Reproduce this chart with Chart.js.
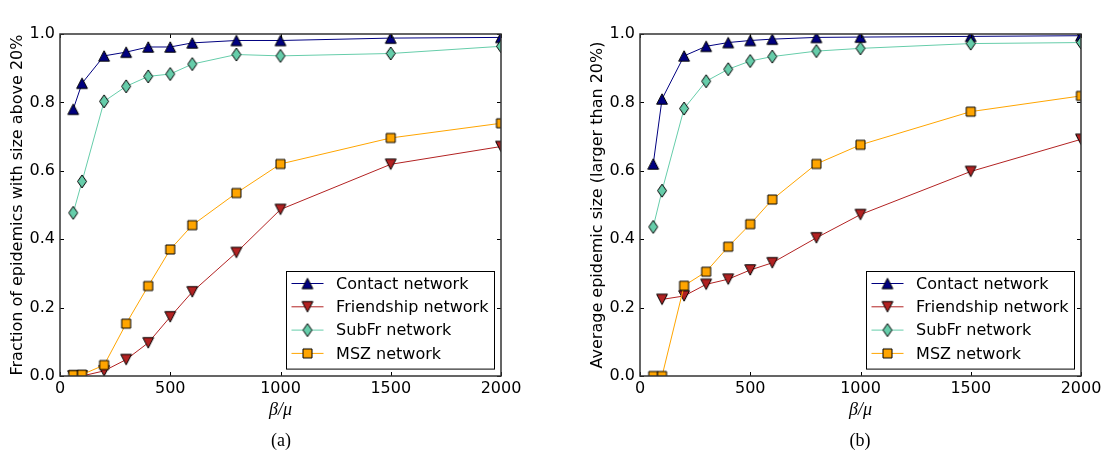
<!DOCTYPE html>
<html>
<head>
<meta charset="utf-8">
<script src="https://cdn.jsdelivr.net/npm/chart.js"></script>
<style>
  body { margin: 0; background: #fff; width: 1105px; height: 458px; overflow: hidden; position: relative; }
  canvas { position: absolute; top: 0; }
  #chartA { left: 0; }
  #chartB { left: 552px; }
  .cap { position: absolute; top: 429px; width: 60px; text-align: center; font: 18px "Liberation Serif", serif; line-height: 22px; color: #000; }
</style>
</head>
<body>
<canvas id="chartA" width="552" height="458"></canvas>
<canvas id="chartB" width="553" height="458"></canvas>
<div class="cap" style="left:251px">(a)</div>
<div class="cap" style="left:830px">(b)</div>
<script>
// beta/mu values
var betaMu = [60, 100, 200, 300, 400, 500, 600, 800, 1000, 1500, 2000];

// (a) fraction of epidemics with size above 20%
var contactA = [0.780, 0.856, 0.936, 0.947, 0.962, 0.962, 0.974, 0.981, 0.981, 0.988, 0.990];
var friendA  = [0, 0, 0.015, 0.048, 0.097, 0.173, 0.246, 0.361, 0.487, 0.619, 0.671];
var subfrA   = [0.477, 0.569, 0.803, 0.847, 0.876, 0.883, 0.912, 0.940, 0.936, 0.943, 0.964];
var mszA     = [0.003, 0.004, 0.032, 0.153, 0.263, 0.370, 0.441, 0.535, 0.620, 0.696, 0.739];

// (b) average epidemic size (larger than 20%)
var contactB = [0.620, 0.810, 0.936, 0.964, 0.975, 0.981, 0.985, 0.990, 0.991, 0.993, 0.995];
var friendB  = [null, 0.224, 0.234, 0.268, 0.283, 0.310, 0.331, 0.404, 0.472, 0.598, 0.692];
var subfrB   = [0.436, 0.542, 0.782, 0.862, 0.897, 0.921, 0.934, 0.950, 0.958, 0.972, 0.975];
var mszB     = [0, 0, 0.264, 0.305, 0.378, 0.444, 0.516, 0.620, 0.676, 0.773, 0.819];

var seriesNames = ['Contact network', 'Friendship network', 'SubFr network', 'MSZ network'];
var seriesColors = ['#000080', '#B22222', '#66CDAA', '#FFA500'];
var xTicks = [0, 500, 1000, 1500, 2000];
var yTicks = [0, 0.2, 0.4, 0.6, 0.8, 1.0];

// marker images (matplotlib style markers with black edge)
function makeMarker(shape, fill) {
  var c = document.createElement('canvas');
  var w = 14, h = 14;
  if (shape == 'diamond') { w = 14; h = 17; }
  if (shape == 'square') { w = 13; h = 13; }
  c.width = w; c.height = h;
  var g = c.getContext('2d');
  g.fillStyle = fill;
  g.strokeStyle = '#000';
  g.lineWidth = 1;
  g.beginPath();
  if (shape == 'up') {
    g.moveTo(7, 1.8); g.lineTo(12.4, 12.2); g.lineTo(1.6, 12.2);
  } else if (shape == 'down') {
    g.moveTo(1.6, 1.8); g.lineTo(12.4, 1.8); g.lineTo(7, 12.2);
  } else if (shape == 'diamond') {
    g.moveTo(7, 2); g.lineTo(11.5, 8.5); g.lineTo(7, 15); g.lineTo(2.5, 8.5);
  } else {
    g.rect(2, 2, 9, 9);
  }
  g.closePath();
  g.fill();
  g.stroke();
  return c;
}
var markerShapes = ['up', 'down', 'diamond', 'square'];
var markers = markerShapes.map(function(s, i) { return makeMarker(s, seriesColors[i]); });

var framePlugin = {
  id: 'frame',
  afterDraw: function(chart) {
    var ctx = chart.ctx, a = chart.chartArea;
    var xs = chart.scales.x, ys = chart.scales.y;
    ctx.save();
    // inward ticks on all four sides
    ctx.strokeStyle = '#000';
    ctx.lineWidth = 1;
    ctx.beginPath();
    xTicks.forEach(function(v) {
      var px = Math.round(xs.getPixelForValue(v)) + 0.5;
      ctx.moveTo(px, a.bottom); ctx.lineTo(px, a.bottom - 4);
      ctx.moveTo(px, a.top); ctx.lineTo(px, a.top + 4);
    });
    yTicks.forEach(function(v) {
      var py = Math.round(ys.getPixelForValue(v)) + 0.5;
      ctx.moveTo(a.left, py); ctx.lineTo(a.left + 4, py);
      ctx.moveTo(a.right, py); ctx.lineTo(a.right - 4, py);
    });
    ctx.stroke();
    ctx.strokeStyle = '#333';
    ctx.lineWidth = 1.5;
    ctx.strokeRect(a.left, a.top, a.right - a.left, a.bottom - a.top);

    // legend box, lower right
    var bw = 208, bh = 97.6;
    var bx = a.right - 7.5 - bw, by = a.bottom - 7.5 - bh;
    ctx.fillStyle = '#fff';
    ctx.fillRect(bx, by, bw, bh);
    ctx.strokeStyle = '#000';
    ctx.lineWidth = 1;
    ctx.strokeRect(Math.round(bx) + 0.5, Math.round(by) + 0.5, bw, bh);
    ctx.font = '16px "DejaVu Sans"';
    ctx.textBaseline = 'middle';
    chart.data.datasets.forEach(function(ds, i) {
      var ey = by + 12.6 + i * 23.3;
      ctx.strokeStyle = ds.borderColor;
      ctx.beginPath();
      ctx.moveTo(bx + 6, ey); ctx.lineTo(bx + 38, ey);
      ctx.stroke();
      var m = ds.pointStyle;
      ctx.drawImage(m, bx + 22 - m.width / 2, ey - m.height / 2);
      ctx.fillStyle = '#000';
      ctx.fillText(ds.label, bx + 50.6, ey + 1);
    });
    ctx.restore();
  }
};

function makeData(ys) {
  return betaMu.map(function(x, i) { return { x: x, y: ys[i] }; });
}

function drawChart(id, yTitle, seriesData, padLeft, padRight) {
  var datasets = seriesData.map(function(ys, i) {
    return {
      label: seriesNames[i],
      data: makeData(ys),
      borderColor: seriesColors[i],
      backgroundColor: seriesColors[i],
      borderWidth: 1,
      pointStyle: markers[i],
      pointRadius: 5,
      tension: 0,
      clip: 0,
      order: 4 - i
    };
  });
  new Chart(document.getElementById(id), {
    type: 'line',
    data: { datasets: datasets },
    options: {
      responsive: false,
      animation: false,
      layout: { padding: { left: padLeft, right: padRight, top: 34, bottom: 32 } },
      plugins: { legend: { display: false }, tooltip: { enabled: false } },
      scales: {
        x: {
          type: 'linear', min: 0, max: 2000,
          grid: { display: false, drawTicks: false },
          border: { display: false },
          ticks: { stepSize: 500, padding: 3, maxRotation: 0, autoSkip: false, color: '#000', font: { family: 'DejaVu Sans', size: 16 },
            callback: function(v) { return String(v); } },
          title: { display: true, text: 'β/μ', color: '#000', padding: { top: 0, bottom: 5 }, font: { family: 'Liberation Serif', size: 18, style: 'italic' } },
          afterFit: function(s) { s.height = 50; }
        },
        y: {
          min: 0, max: 1,
          grid: { display: false, drawTicks: false },
          border: { display: false },
          ticks: { stepSize: 0.2, padding: 5, color: '#000', font: { family: 'DejaVu Sans', size: 16 },
            callback: function(v) { return v.toFixed(1); } },
          title: { display: true, text: yTitle, color: '#000', padding: { top: 8.4, bottom: 0 }, font: { family: 'DejaVu Sans', size: 16 } },
          afterFit: function(s) { s.width = 60; }
        }
      }
    },
    plugins: [framePlugin]
  });
}

drawChart('chartA', 'Fraction of epidemics with size above 20%', [contactA, friendA, subfrA, mszA], 0, 51);
drawChart('chartB', 'Average epidemic size (larger than 20%)', [contactB, friendB, subfrB, mszB], 28, 24);
</script>
</body>
</html>
